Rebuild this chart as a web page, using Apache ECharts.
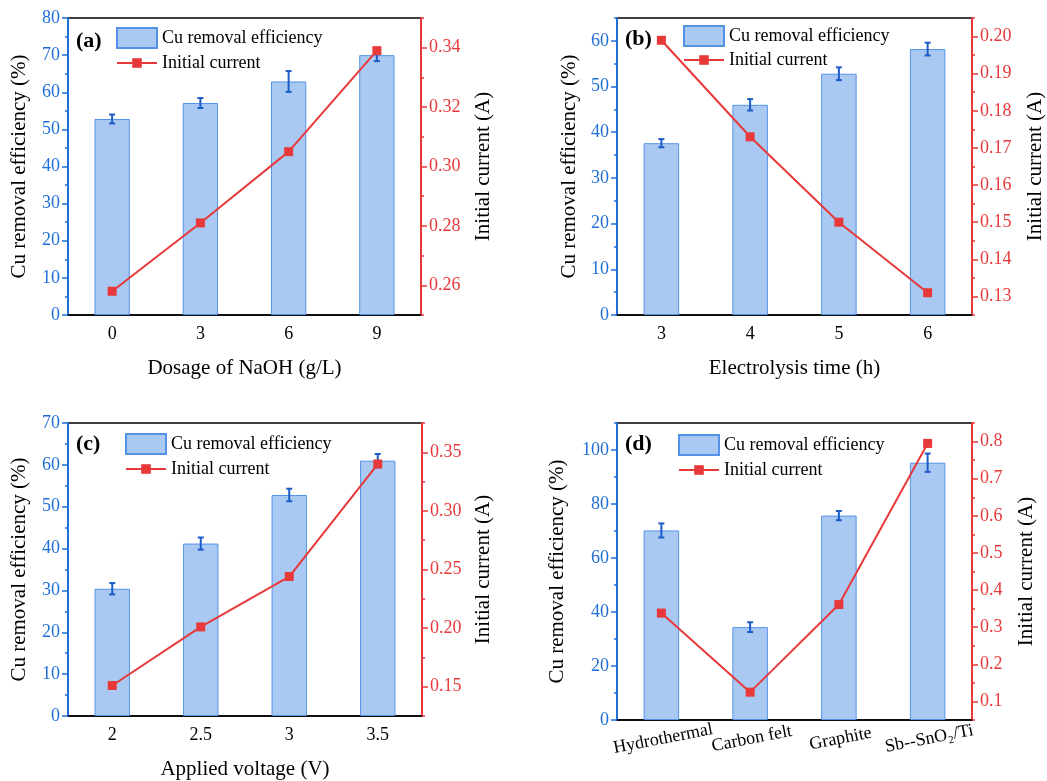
<!DOCTYPE html>
<html>
<head>
<meta charset="utf-8">
<script src="https://cdn.jsdelivr.net/npm/echarts@6/dist/echarts.min.js"></script>
<style>
  html, body { margin: 0; padding: 0; background: #fff; }
  #chart { width: 1047px; height: 781px; }
</style>
</head>
<body>
<div id="chart"></div>
<script>
// panel (a): NaOH dosage
const catsA = ['0', '3', '6', '9'];
const effA = [52.8, 57.1, 62.9, 70.0];
const errA = [1.2, 1.35, 2.8, 1.6];
const curA = [0.258, 0.281, 0.305, 0.339];
const leftTicksA = [0, 10, 20, 30, 40, 50, 60, 70, 80];
const rightTicksA = [0.26, 0.28, 0.30, 0.32, 0.34];

// panel (b): electrolysis time
const catsB = ['3', '4', '5', '6'];
const effB = [37.6, 46.0, 52.8, 58.2];
const errB = [0.9, 1.25, 1.4, 1.4];
const curB = [0.199, 0.173, 0.150, 0.131];
const leftTicksB = [0, 10, 20, 30, 40, 50, 60];
const rightTicksB = [0.13, 0.14, 0.15, 0.16, 0.17, 0.18, 0.19, 0.20];

// panel (c): applied voltage
const catsC = ['2', '2.5', '3', '3.5'];
const effC = [30.4, 41.2, 52.8, 61.0];
const errC = [1.35, 1.45, 1.5, 1.6];
const curC = [0.151, 0.201, 0.244, 0.340];
const leftTicksC = [0, 10, 20, 30, 40, 50, 60, 70];
const rightTicksC = [0.15, 0.20, 0.25, 0.30, 0.35];

// panel (d): anode material
const catsD = ['Hydrothermal', 'Carbon felt', 'Graphite', 'Sb--SnO\u2082/Ti'];
const effD = [70.2, 34.4, 75.7, 95.3];
const errD = [2.6, 1.8, 1.7, 3.4];
const curD = [0.338, 0.125, 0.361, 0.795];
const leftTicksD = [0, 20, 40, 60, 80, 100];
const rightTicksD = [0.1, 0.2, 0.3, 0.4, 0.5, 0.6, 0.7, 0.8];

const FONT = 'Liberation Serif';
const BLUE = '#1f6fd8';
const RED = '#e8393a';
const BAR_FILL = '#a9c9f3';
const BAR_EDGE = '#5592e6';
const ERR_COLOR = '#1c5cc7';

const panels = [
  { tag: '(a)', tagPos: [76, 42], grid: { left: 68, top: 18, width: 353, height: 297 },
    cats: catsA, eff: effA, err: errA, cur: curA, xName: 'Dosage of NaOH (g/L)',
    left: { min: 0, max: 80, minor: 5, ticks: leftTicksA, dec: 0, gap: 38 },
    right: { min: 0.25, max: 0.35, minor: 0.01, ticks: rightTicksA, dec: 2, gap: 52 },
    legendBar: [116, 27], legendLine: 60 },
  { tag: '(b)', tagPos: [625, 40], grid: { left: 617, top: 18, width: 355, height: 297 },
    cats: catsB, eff: effB, err: errB, cur: curB, xName: 'Electrolysis time (h)',
    left: { min: 0, max: 65, minor: 5, ticks: leftTicksB, dec: 0, gap: 37 },
    right: { min: 0.125, max: 0.205, minor: 0.005, ticks: rightTicksB, dec: 2, gap: 53 },
    legendBar: [683, 25], legendLine: 57 },
  { tag: '(c)', tagPos: [76, 445], grid: { left: 68, top: 423, width: 354, height: 297 },
    cats: catsC, eff: effC, err: errC, cur: curC, xName: 'Applied voltage (V)',
    left: { min: 0, max: 70, minor: 5, ticks: leftTicksC, dec: 0, gap: 38 },
    right: { min: 0.125, max: 0.375, minor: 0.025, ticks: rightTicksC, dec: 2, gap: 51 },
    legendBar: [125, 433], legendLine: 466 },
  { tag: '(d)', tagPos: [625, 445], grid: { left: 617, top: 423, width: 355, height: 297 },
    cats: catsD, eff: effD, err: errD, cur: curD, xName: '',
    left: { min: 0, max: 110, minor: 10, ticks: leftTicksD, dec: 0, gap: 49 },
    right: { min: 0.05, max: 0.85, minor: 0.05, ticks: rightTicksD, dec: 1, gap: 44 },
    legendBar: [678, 434], legendLine: 467, rotate: 11 }
];

const chart = echarts.init(document.getElementById('chart'));

const grids = [], xAxes = [], yAxes = [], series = [], legends = [], graphics = [];

function isMajor(list, v) {
  return list.some(m => Math.abs(m - v) < 1e-9);
}

// main axis: line + labels + short minor ticks; overlay axis: longer major ticks
function addYAxes(k, side, cfg, color, name) {
  const mainIdx = yAxes.length;
  yAxes.push({
    gridIndex: k, type: 'value', position: side,
    min: cfg.min, max: cfg.max, interval: cfg.minor,
    axisLine: { show: true, lineStyle: { color: color, width: 2 } },
    axisTick: { show: true, length: 3, lineStyle: { color: color, width: 1.5 } },
    axisLabel: {
      color: color, fontFamily: FONT, fontSize: 18, margin: 8,
      showMinLabel: true, showMaxLabel: true,
      formatter: v => isMajor(cfg.ticks, v) ? v.toFixed(cfg.dec) : ''
    },
    splitLine: { show: false },
    name: name, nameLocation: 'middle', nameGap: cfg.gap,
    nameTextStyle: { color: '#000', fontFamily: FONT, fontSize: 21 }
  });
  yAxes.push({
    gridIndex: k, type: 'value', position: side,
    min: cfg.min, max: cfg.max,
    axisLine: { show: false },
    axisTick: { show: true, length: 6, customValues: cfg.ticks, lineStyle: { color: color, width: 1.5 } },
    axisLabel: { show: false },
    splitLine: { show: false }
  });
  return mainIdx;
}

const legendText = { color: '#000', fontFamily: FONT, fontSize: 18 };

panels.forEach((p, k) => {
  grids.push(Object.assign({ show: true, borderColor: '#000', borderWidth: 1.5, backgroundColor: 'transparent' }, p.grid));

  xAxes.push({
    gridIndex: k, type: 'category', data: p.cats,
    axisLine: { lineStyle: { color: '#000', width: 1.5 } },
    axisTick: { show: false },
    axisLabel: p.rotate
      ? { color: '#000', fontFamily: FONT, fontSize: 18, margin: 10, rotate: p.rotate, align: 'center', verticalAlign: 'top', interval: 0 }
      : { color: '#000', fontFamily: FONT, fontSize: 18, margin: 10 },
    name: p.xName, nameLocation: 'middle', nameGap: 43,
    nameTextStyle: { color: '#000', fontFamily: FONT, fontSize: 21 }
  });

  const li = addYAxes(k, 'left', p.left, BLUE, 'Cu removal efficiency (%)');
  const ri = addYAxes(k, 'right', p.right, RED, 'Initial current (A)');

  series.push({
    name: 'Cu removal efficiency', type: 'bar',
    xAxisIndex: k, yAxisIndex: li,
    data: p.eff, barWidth: '40%',
    itemStyle: { color: BAR_FILL, borderColor: BAR_EDGE, borderWidth: 1 },
    z: 2
  });

  series.push({
    type: 'custom', xAxisIndex: k, yAxisIndex: li,
    data: p.eff.map((v, i) => [i, v, p.err[i]]),
    renderItem: (params, api) => {
      const x = api.value(0), v = api.value(1), e = api.value(2);
      const top = api.coord([x, v + e]);
      const bot = api.coord([x, v - e]);
      const style = { stroke: ERR_COLOR, lineWidth: 2 };
      const cap = 3;
      return {
        type: 'group',
        children: [
          { type: 'line', shape: { x1: top[0], y1: top[1], x2: bot[0], y2: bot[1] }, style: style },
          { type: 'line', shape: { x1: top[0] - cap, y1: top[1], x2: top[0] + cap, y2: top[1] }, style: style },
          { type: 'line', shape: { x1: bot[0] - cap, y1: bot[1], x2: bot[0] + cap, y2: bot[1] }, style: style }
        ]
      };
    },
    z: 3
  });

  series.push({
    name: 'Initial current', type: 'line',
    xAxisIndex: k, yAxisIndex: ri,
    data: p.cur,
    color: RED,
    symbol: 'rect', symbolSize: 9,
    lineStyle: { color: RED, width: 2 },
    itemStyle: { color: RED },
    z: 4
  });

  // bar entry and line entry need different icon heights, so two legends
  legends.push({
    left: p.legendBar[0], top: p.legendBar[1], padding: 0,
    itemWidth: 40, itemHeight: 20,
    data: [{ name: 'Cu removal efficiency', icon: 'rect' }],
    textStyle: legendText, selectedMode: false
  });
  legends.push({
    left: p.legendBar[0], top: p.legendLine - 6, padding: 0,
    itemWidth: 40, itemHeight: 12,
    data: ['Initial current'],
    textStyle: legendText, selectedMode: false
  });

  graphics.push({
    type: 'text', left: p.tagPos[0], top: p.tagPos[1] - 12,
    style: { text: p.tag, font: 'bold 22px "Liberation Serif"', fill: '#000' }
  });
});

chart.setOption({
  backgroundColor: '#fff',
  animation: false,
  grid: grids,
  xAxis: xAxes,
  yAxis: yAxes,
  legend: legends,
  graphic: graphics,
  series: series
});
</script>
</body>
</html>
